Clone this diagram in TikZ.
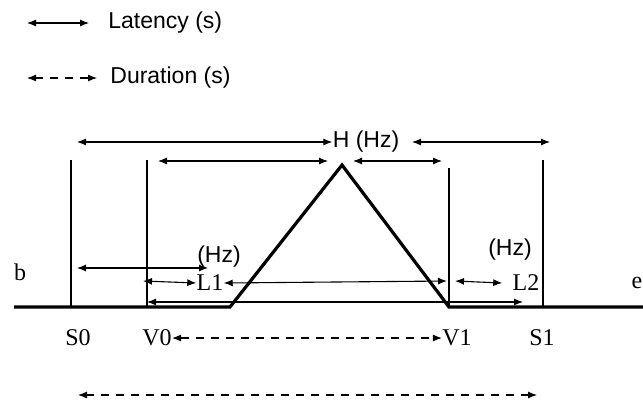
\documentclass[tikz,border=0pt]{standalone}
\usepackage{fontspec}
\setmainfont{Liberation Sans}
\newfontfamily\serfont{Liberation Serif}
\usetikzlibrary{arrows.meta,positioning}

\begin{document}
\begin{tikzpicture}[x=0.5pt, y=-0.5pt, >={Latex[length=4.5pt,width=3.5pt]},
  lbl/.style={font=\fontsize{11.5}{13}\selectfont, inner sep=0pt},
  tag/.style={font=\serfont\fontsize{12}{14}\selectfont, inner sep=0pt},
  lat/.style={<->, line width=0.55pt},
  dur/.style={<->, line width=0.55pt, dash pattern=on 4pt off 3.5pt},
  guide/.style={line width=0.6pt},
  env/.style={line width=1.6pt, line join=miter}]
\useasboundingbox (0,0) rectangle (643,403);

% legend
\coordinate (latA) at (27,23);
\coordinate (latB) at (89,23);
\draw[lat] (latA) -- (latB);
\node[lbl, anchor=west, right=9.5pt of latB] (latency) {Latency (s)};
\coordinate (durA) at (27,78);
\coordinate (durB) at (97,78);
\draw[dur] (durA) -- (durB);
\node[lbl, anchor=west, right=6.5pt of durB] (duration) {Duration (s)};

% vertical markers
\coordinate (s0t) at (71,160);  \coordinate (s0b) at (71,307);
\coordinate (v0t) at (147,160); \coordinate (v0b) at (147,307);
\coordinate (v1t) at (449,168); \coordinate (v1b) at (449,307);
\coordinate (s1t) at (543,160); \coordinate (s1b) at (543,307);
\draw[guide] (s0t) -- (s0b);
\draw[guide] (v0t) -- (v0b);
\draw[guide] (v1t) -- (v1b);
\draw[guide] (s1t) -- (s1b);

% envelope
\coordinate (begin) at (14,307);
\coordinate (rise) at (230,307);
\coordinate (peak) at (342,165);
\coordinate (fall) at (449,307);
\coordinate (end) at (643,307);
\draw[env] (begin) -- (rise) -- (peak) -- (fall) -- (end);
\node[tag] (b) at (20,272) {b};
\node[tag] (e) at (637,283) {e};

% H (Hz) latencies
\node[lbl] (H) at (366,142) {H (Hz)};
\coordinate (hA) at (77,142);  \coordinate (hB) at (412,142);
\coordinate (hC) at (550,142);
\draw[lat] (hA) -- (H.west);
\draw[lat] (hB) -- (hC);
\coordinate (hD) at (158,161); \coordinate (hE) at (328,161);
\coordinate (hF) at (353,161); \coordinate (hG) at (442,161);
\draw[lat] (hD) -- (hE);
\draw[lat] (hF) -- (hG);

% L1 side
\node[lbl] (hzL) at (219,257) {(Hz)};
\coordinate (aL) at (77,268); \coordinate (bL) at (208,268);
\draw[lat] (aL) -- (bL);
\node[tag] (L1) at (210,283) {L1};
\coordinate (cL) at (143,281);
\draw[lat] (cL) -- (L1.west);
\coordinate (dL) at (447,281);
\draw[lat] (L1.east) -- (dL);

% L2 side
\node[lbl] (hzR) at (510,250) {(Hz)};
\node[tag] (L2) at (526,283) {L2};
\coordinate (aR) at (455,281);
\draw[lat] (aR) -- ([xshift=-5pt]L2.west);
\coordinate (lowA) at (147,302); \coordinate (lowB) at (523,302);
\draw[lat] (lowA) -- (lowB);

% durations
\node[tag] (S0) at (78,338) {S0};
\node[tag] (V0) at (157,338) {V0};
\node[tag] (V1) at (457,338) {V1};
\node[tag] (S1) at (542,338) {S1};
\draw[dur] (V0.east) -- (V1.west);
\coordinate (totA) at (78,395); \coordinate (totB) at (537,395);
\draw[dur] (totA) -- (totB);
\end{tikzpicture}
\end{document}
